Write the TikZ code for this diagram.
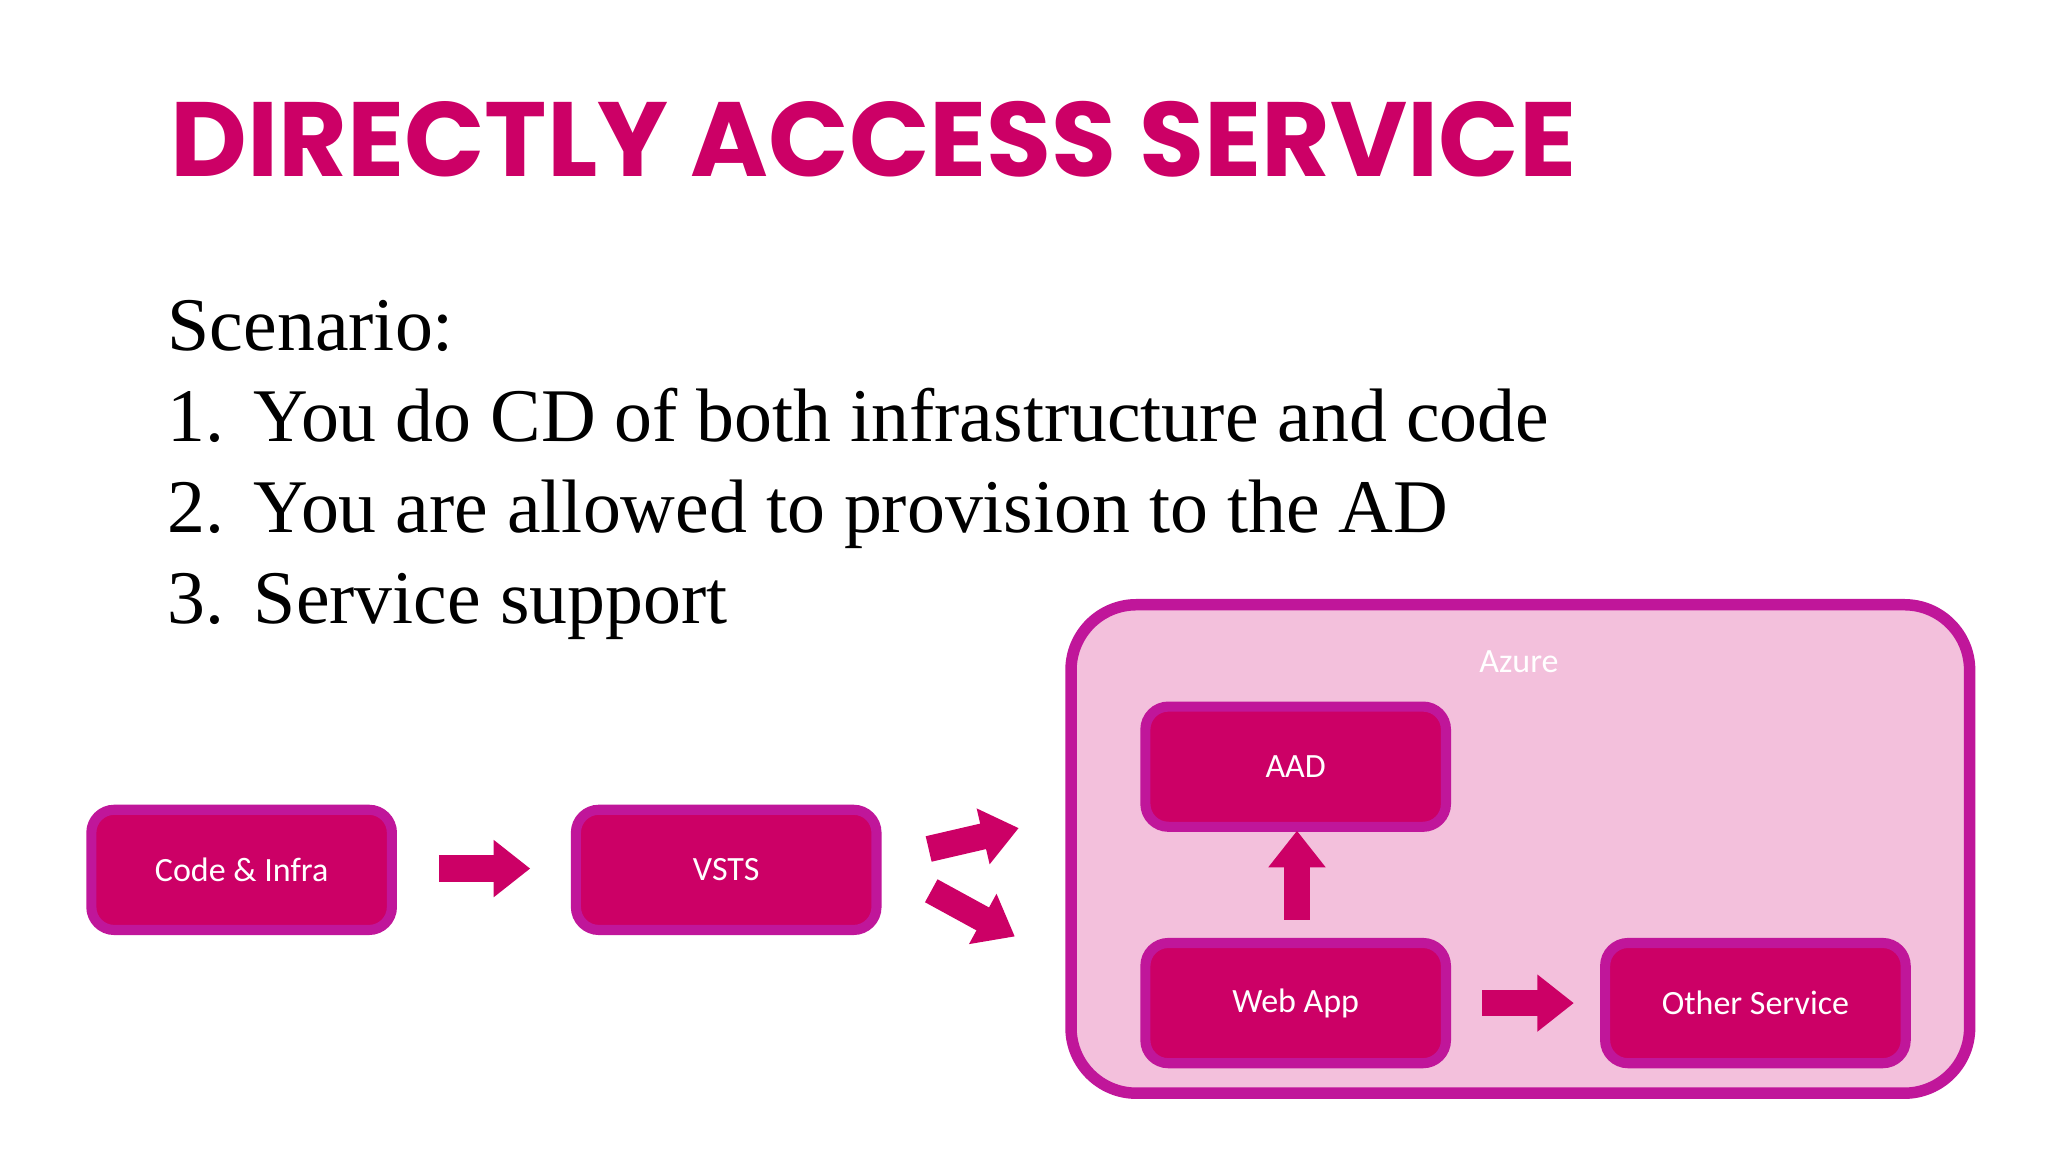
\documentclass[tikz,border=0pt]{standalone}
\usepackage{fontspec}
\setmainfont{Liberation Serif}
\newfontfamily\boxfont{Carlito}
\newfontfamily\titlefont{Poppins}
\usetikzlibrary{arrows.meta}
\definecolor{mag}{HTML}{CC0066}
\definecolor{magedge}{HTML}{C0169A}
\definecolor{azfill}{HTML}{F3C0DC}
\begin{document}
\begin{tikzpicture}[x=0.01cm,y=-0.01cm,
  box/.style={draw=magedge,line width=2.2pt,fill=mag,rounded corners=5pt,
    minimum width=2.3cm,minimum height=0.92cm,text=white,font=\boxfont\fontsize{7.4}{9}\selectfont},
  blk/.style={draw=mag,line width=0.2cm,-{Triangle[length=0.28cm,width=0.42cm]}}]
\useasboundingbox (0,0) rectangle (1568,882);
% title and list
\node[anchor=west,text=mag,font=\titlefont\bfseries\fontsize{23}{26}\selectfont] (title) at (118,107) {DIRECTLY ACCESS SERVICE};
\begin{scope}[every node/.style={anchor=base west,font=\fontsize{16.5}{20}\selectfont}]
\node (sc) at (116,268) {Scenario:};
\node (n1) at (116,338) {1.};
\node (t1) at (182,338) {You do CD of both infrastructure and code};
\node (n2) at (116,408) {2.};
\node (t2) at (182,408) {You are allowed to provision to the AD};
\node (n3) at (116,477) {3.};
\node (t3) at (182,477) {Service support};
\end{scope}
% azure region
\draw[magedge,line width=2.5pt,fill=azfill,rounded corners=0.5cm] (820,463) rectangle (1508,837);
\node[text=white,font=\boxfont\fontsize{7.4}{9}\selectfont] (azure) at (1163,507) {Azure};
% boxes
\node[box] (code) at (185,666) {Code \& Infra};
\node[box] (vsts) at (556,666) {VSTS};
\node[box] (aad) at (992,587) {AAD};
\node[box] (web) at (992,768) {Web App};
\node[box] (other) at (1344,768) {Other Service};
% arrows
\coordinate (a1s) at (336,665); \coordinate (a1e) at (406,665);
\draw[blk] (a1s) -- (a1e);
\coordinate (a2s) at (1135,768); \coordinate (a2e) at (1205,768);
\draw[blk] (a2s) -- (a2e);
\coordinate (a3s) at (993,704); \coordinate (a3e) at (993,636);
\draw[blk] (a3s) -- (a3e);
\coordinate (a4s) at (711,650); \coordinate (a4e) at (780,634);
\draw[blk] (a4s) -- (a4e);
\coordinate (a5s) at (713,682); \coordinate (a5e) at (777,717);
\draw[blk] (a5s) -- (a5e);
\end{tikzpicture}
\end{document}
